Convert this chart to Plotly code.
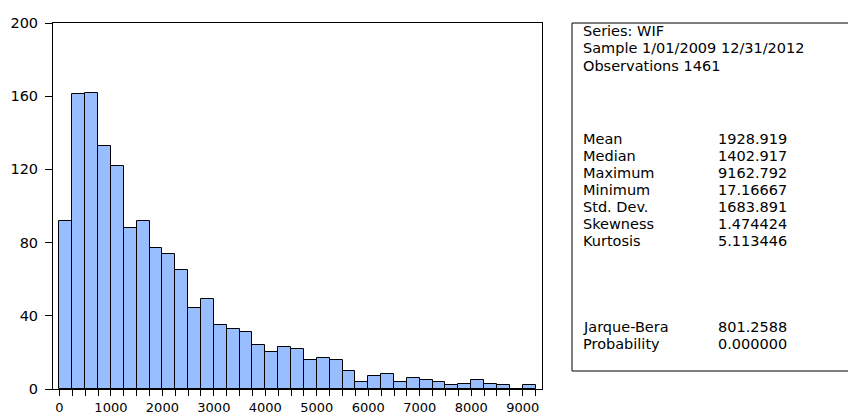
import plotly.graph_objects as go

# Histogram of WIF, bins of width 250
bin_width = 250
bin_starts = [i * bin_width for i in range(37)]
counts = [92, 161, 162, 133, 122, 88, 92, 77, 74, 65,
          44, 49, 35, 33, 31, 24, 20, 23, 22, 16,
          17, 16, 10, 4, 7, 8, 4, 6, 5, 4,
          2, 3, 5, 3, 2, 0, 2]

# Axis ticks
x_tick_vals = [i * bin_width for i in range(38)]
x_tick_text = [str(v) if v % 1000 == 0 else "" for v in x_tick_vals]
y_tick_vals = [0, 40, 80, 120, 160, 200]

# Descriptive statistics panel
header_lines = ["Series: WIF", "Sample 1/01/2009 12/31/2012", "Observations 1461"]
stat_names = ["Mean", "Median", "Maximum", "Minimum", "Std. Dev.", "Skewness", "Kurtosis"]
stat_values = ["1928.919", "1402.917", "9162.792", "17.16667", "1683.891", "1.474424", "5.113446"]
test_names = ["Jarque-Bera", "Probability"]
test_values = ["801.2588", "0.000000"]

W, H = 848, 414
L, R, T, B = 53, 306, 23, 25
plot_w = W - L - R
plot_h = H - T - B

FONT = "DejaVu Sans"
PANEL_SIZE = 14.5


def px_to_paper(px, py):
    return (px - L) / plot_w, (H - B - py) / plot_h


fig = go.Figure()
fig.add_trace(go.Bar(
    x=[s + bin_width / 2 for s in bin_starts],
    y=counts,
    width=bin_width,
    marker=dict(color="rgb(152,190,255)", line=dict(color="black", width=1)),
    hoverinfo="x+y",
))

annotations = []


def add_text(px, py, text):
    ax, ay = px_to_paper(px, py)
    annotations.append(dict(
        x=ax, y=ay, xref="paper", yref="paper", text=text, showarrow=False,
        xanchor="left", yanchor="middle", borderpad=0,
        font=dict(family=FONT, size=PANEL_SIZE, color="black"),
    ))


line_h = 17.3
for i, t in enumerate(header_lines):
    add_text(582, 31 + i * line_h, t)
for i, (n, v) in enumerate(zip(stat_names, stat_values)):
    add_text(582, 138.5 + i * 17.05, n)
    add_text(717, 138.5 + i * 17.05, v)
for i, (n, v) in enumerate(zip(test_names, test_values)):
    add_text(582, 326.7 + i * line_h, n)
    add_text(717, 326.7 + i * line_h, v)

x0, y0 = px_to_paper(572, 371)
x1, y1 = px_to_paper(870, 23)

fig.update_layout(
    width=W, height=H,
    margin=dict(l=L, r=R, t=T, b=B, pad=0, autoexpand=False),
    paper_bgcolor="white", plot_bgcolor="white",
    showlegend=False,
    bargap=0,
    font=dict(family=FONT, size=14, color="black"),
    xaxis=dict(
        range=[-125, 9375], automargin=False,
        tickmode="array", tickvals=x_tick_vals, ticktext=x_tick_text,
        ticks="outside", ticklen=6, tickwidth=1, tickcolor="black",
        showline=True, linecolor="black", linewidth=1, mirror=True,
        showgrid=False, zeroline=False,
        tickfont=dict(family=FONT, size=13, color="black"),
    ),
    yaxis=dict(
        range=[0, 200], automargin=False,
        tickmode="array", tickvals=y_tick_vals,
        ticks="outside", ticklen=7, tickwidth=1, tickcolor="black",
        showline=True, linecolor="black", linewidth=1, mirror=True,
        showgrid=False, zeroline=False,
        ticklabelstandoff=4,
        tickfont=dict(family=FONT, size=14.5, color="black"),
    ),
    shapes=[dict(type="rect", xref="paper", yref="paper",
                 x0=x0, y0=y0, x1=x1, y1=y1,
                 line=dict(color="black", width=1), fillcolor="rgba(0,0,0,0)")],
    annotations=annotations,
)

fig.write_html("out.html")
